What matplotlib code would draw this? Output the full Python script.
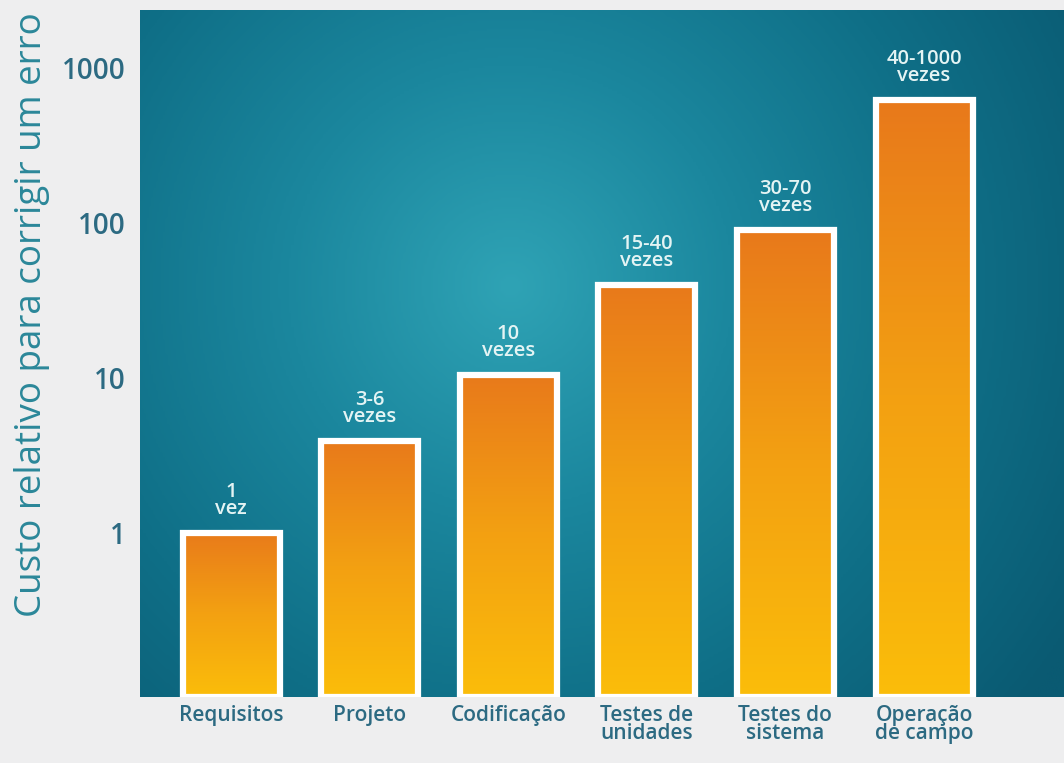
import numpy as np
import matplotlib
matplotlib.use("Agg")
import matplotlib.pyplot as plt
from matplotlib.colors import LinearSegmentedColormap

categories = ["Requisitos", "Projeto", "Codificação", "Testes de\nunidades",
              "Testes do\nsistema", "Operação\nde campo"]
values = [1, 3.9, 10.5, 40, 90, 620]
bar_labels = ["1\nvez", "3-6\nvezes", "10\nvezes", "15-40\nvezes",
              "30-70\nvezes", "40-1000\nvezes"]
yticks = [1, 10, 100, 1000]
ytick_labels = ["1", "10", "100", "1000"]
ylabel = "Custo relativo para corrigir um erro"

plt.rcParams['font.family'] = ['Open Sans', 'DejaVu Sans']

fig = plt.figure(figsize=(10.64, 7.63), dpi=100, facecolor="#eeeeef")
ax = fig.add_axes([140/1064, 1-697/763, 1-140/1064, (697-10)/763])
ax.set_yscale("log")
ymin, ymax = 0.0875, 2366
ax.set_ylim(ymin, ymax)
ax.set_xlim(-0.657, 6.01)

# radial teal background
H, W = 300, 400
yy, xx = np.mgrid[0:H, 0:W]
cx, cy = 0.40 * W, 0.40 * H
r = np.sqrt(((xx - cx) / W) ** 2 + ((yy - cy) / H * 0.75) ** 2)
r = np.clip(r / 0.72, 0, 1)
bg_cmap = LinearSegmentedColormap.from_list("bg", ["#2fa3b5", "#1b879e", "#0f6f87", "#0a5a72"])
ax.imshow(r, cmap=bg_cmap, extent=[0, 1, 0, 1], transform=ax.transAxes,
          aspect="auto", origin="upper", zorder=0, interpolation="bilinear")

bar_cmap = LinearSegmentedColormap.from_list("bar", ["#fbbd0a", "#f3a012", "#e8781b"])
grad = np.linspace(0, 1, 256).reshape(-1, 1)

x = np.arange(len(categories))
width = 0.70
heights = [v - ymin for v in values]
bars = ax.bar(x, heights, width=width, bottom=ymin, color="none",
              edgecolor="white", linewidth=4.5, zorder=3)
inv = ax.transAxes.inverted()
for b, v in zip(bars, values):
    x0, axy = inv.transform(ax.transData.transform((b.get_x(), v)))
    x1 = inv.transform(ax.transData.transform((b.get_x() + b.get_width(), v)))[0]
    im = ax.imshow(grad, cmap=bar_cmap, extent=[x0, x1, 0, axy + 0.01],
                   transform=ax.transAxes, aspect="auto", origin="lower",
                   zorder=2, interpolation="bilinear")
    im.set_clip_path(b)

for xi, v, lab in zip(x, values, bar_labels):
    ax.annotate(lab, (xi, v), xytext=(0, 10), textcoords="offset points",
                ha="center", va="bottom", color="#e4f4f4", fontsize=14.5,
                fontweight="semibold", linespacing=0.8, zorder=4)

ax.set_xticks(x)
ax.set_xticklabels(categories, color="#2c6a82", fontsize=15,
                   fontweight="semibold", linespacing=0.8)
ax.set_yticks(yticks)
ax.set_yticklabels(ytick_labels, color="#2c6a82", fontsize=20, fontweight="semibold")
ax.yaxis.set_minor_locator(matplotlib.ticker.NullLocator())
ax.tick_params(axis="both", length=0)
ax.tick_params(axis="y", pad=10)
ax.tick_params(axis="x", pad=6)
for s in ax.spines.values():
    s.set_visible(False)

fig.text(32/1064, 1-315/763, ylabel, rotation=90, ha="center", va="center",
         color="#2b8799", fontsize=26.5)

fig.savefig("out.png", dpi=100, facecolor=fig.get_facecolor())
